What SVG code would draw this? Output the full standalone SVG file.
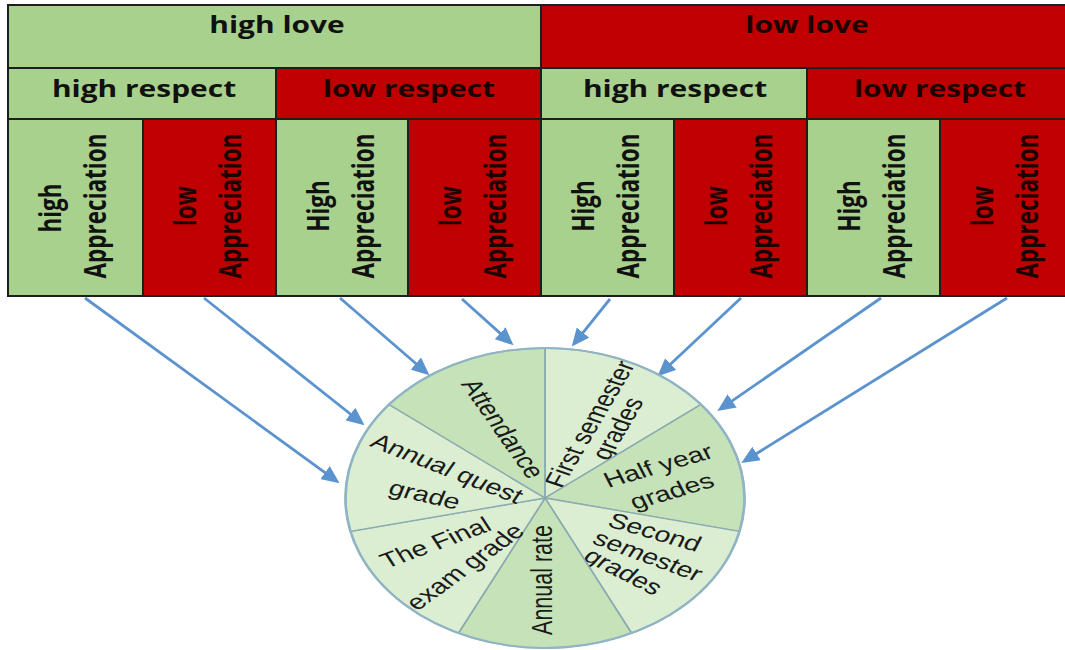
<svg xmlns="http://www.w3.org/2000/svg" width="1065" height="650" viewBox="0 0 1065 650">
<style>
.g{fill:#a9d18e;stroke:#1e1e1e;stroke-width:2}
.r{fill:#c00000;stroke:#1e1e1e;stroke-width:2}
.hd{font-family:"Open Sans","Liberation Sans",sans-serif;font-weight:700;font-size:22.5px;text-anchor:middle}
.dk{fill:#111111}
.rk{fill:#1f0000}
.lt{fill:#dbeed2;stroke:#8aaab0;stroke-width:1.3}
.dr{fill:#c6e2b8;stroke:#8aaab0;stroke-width:1.3}
.pt{font-family:"Liberation Sans",Arial,sans-serif;font-size:21.5px;fill:#1a1a1a;text-anchor:middle}
.ar{fill:none;stroke:#5b93cf;stroke-width:2.8;marker-end:url(#ah)}
</style>
<defs>
<marker id="ah" markerUnits="userSpaceOnUse" markerWidth="18" markerHeight="16" refX="8" refY="8" orient="auto">
<path d="M0,0 L18,8 L0,16 Z" fill="#5b93cf"/>
</marker>
</defs>
<rect width="1065" height="650" fill="#ffffff"/>

<g id="high-love"><rect class="g" x="8" y="5" width="533" height="63"/><text class="hd dk" transform="translate(277,33) scale(1.33,1)">high love</text></g>
<g id="low-love"><rect class="r" x="541" y="5" width="531" height="63"/><text class="hd rk" transform="translate(807,33) scale(1.33,1)">low love</text></g>

<g id="hl-high-respect"><rect class="g" x="8" y="68" width="268" height="51"/><text class="hd dk" transform="translate(144,97) scale(1.33,1)">high respect</text></g>
<g id="hl-low-respect"><rect class="r" x="276" y="68" width="265" height="51"/><text class="hd rk" transform="translate(409,97) scale(1.33,1)">low respect</text></g>
<g id="ll-high-respect"><rect class="g" x="541" y="68" width="266" height="51"/><text class="hd dk" transform="translate(675,97) scale(1.33,1)">high respect</text></g>
<g id="ll-low-respect"><rect class="r" x="807" y="68" width="265" height="51"/><text class="hd rk" transform="translate(940,97) scale(1.33,1)">low respect</text></g>

<g id="col1"><rect class="g" x="8" y="119" width="135" height="177"/><text class="hd dk" transform="translate(61,208) scale(1.33,1) rotate(-90)">high</text><text class="hd dk" transform="translate(106,206) scale(1.33,1) rotate(-90)">Appreciation</text></g>
<g id="col2"><rect class="r" x="143" y="119" width="133" height="177"/><text class="hd rk" transform="translate(196,206) scale(1.33,1) rotate(-90)">low</text><text class="hd rk" transform="translate(241,206) scale(1.33,1) rotate(-90)">Appreciation</text></g>
<g id="col3"><rect class="g" x="276" y="119" width="132" height="177"/><text class="hd dk" transform="translate(329,206) scale(1.33,1) rotate(-90)">High</text><text class="hd dk" transform="translate(374,206) scale(1.33,1) rotate(-90)">Appreciation</text></g>
<g id="col4"><rect class="r" x="408" y="119" width="133" height="177"/><text class="hd rk" transform="translate(461,206) scale(1.33,1) rotate(-90)">low</text><text class="hd rk" transform="translate(506,206) scale(1.33,1) rotate(-90)">Appreciation</text></g>
<g id="col5"><rect class="g" x="541" y="119" width="133" height="177"/><text class="hd dk" transform="translate(594,206) scale(1.33,1) rotate(-90)">High</text><text class="hd dk" transform="translate(639,206) scale(1.33,1) rotate(-90)">Appreciation</text></g>
<g id="col6"><rect class="r" x="674" y="119" width="133" height="177"/><text class="hd rk" transform="translate(727,206) scale(1.33,1) rotate(-90)">low</text><text class="hd rk" transform="translate(772,206) scale(1.33,1) rotate(-90)">Appreciation</text></g>
<g id="col7"><rect class="g" x="807" y="119" width="133" height="177"/><text class="hd dk" transform="translate(860,206) scale(1.33,1) rotate(-90)">High</text><text class="hd dk" transform="translate(905,206) scale(1.33,1) rotate(-90)">Appreciation</text></g>
<g id="col8"><rect class="r" x="940" y="119" width="132" height="177"/><text class="hd rk" transform="translate(993,206) scale(1.33,1) rotate(-90)">low</text><text class="hd rk" transform="translate(1038,206) scale(1.33,1) rotate(-90)">Appreciation</text></g>

<g id="connectors">
<line class="ar" x1="85" y1="298" x2="331.5" y2="477.3"/>
<line class="ar" x1="204" y1="298" x2="356.7" y2="419"/>
<line class="ar" x1="340" y1="298" x2="421.9" y2="368.8"/>
<line class="ar" x1="462" y1="299" x2="506.1" y2="338.6"/>
<line class="ar" x1="610" y1="299" x2="578" y2="338.8"/>
<line class="ar" x1="741" y1="298" x2="664.8" y2="369.5"/>
<line class="ar" x1="881" y1="298" x2="725.6" y2="405.4"/>
<line class="ar" x1="1007" y1="298" x2="749.8" y2="457.8"/>
</g>

<g id="pie" transform="translate(545,498) scale(1.33,1)">
<g id="slice-first-semester"><path class="lt" d="M0,0 L0,-150 A150,150 0 0,1 117.27,-93.52 Z"/><text class="pt" transform="translate(40.2,-71.1) rotate(-66)">First semester</text><text class="pt" transform="translate(61.2,-66.5) rotate(-66)">grades</text></g>
<g id="slice-half-year"><path class="dr" d="M0,0 L117.27,-93.52 A150,150 0 0,1 146.24,33.38 Z"/><text class="pt" transform="translate(87.7,-25.4) rotate(-21)">Half year</text><text class="pt" transform="translate(98,0) rotate(-21)">grades</text></g>
<g id="slice-second-semester"><path class="lt" d="M0,0 L146.24,33.38 A150,150 0 0,1 65.08,135.15 Z"/><text class="pt" transform="translate(80,41) rotate(21)">Second</text><text class="pt" transform="translate(74.3,64.4) rotate(26)">semester</text><text class="pt" transform="translate(54.8,79.6) rotate(34)">grades</text></g>
<g id="slice-annual-rate"><path class="dr" d="M0,0 L65.08,135.15 A150,150 0 0,1 -65.08,135.15 Z"/><text class="pt" transform="translate(5,82) rotate(-90)">Annual rate</text></g>
<g id="slice-final-exam"><path class="lt" d="M0,0 L-65.08,135.15 A150,150 0 0,1 -146.24,33.38 Z"/><text class="pt" transform="translate(-79.2,51.4) rotate(-26)">The Final</text><text class="pt" transform="translate(-55.2,74) rotate(-44)">exam grade</text></g>
<g id="slice-annual-quest"><path class="lt" d="M0,0 L-146.24,33.38 A150,150 0 0,1 -117.27,-93.52 Z"/><text class="pt" transform="translate(-77,-23.1) rotate(27.7)">Annual quest</text><text class="pt" transform="translate(-92.6,3.8) rotate(17)">grade</text></g>
<g id="slice-attendance"><path class="dr" d="M0,0 L-117.27,-93.52 A150,150 0 0,1 0,-150 Z"/><text class="pt" transform="translate(-38,-65.9) rotate(62)">Attendance</text></g>
<circle cx="0" cy="0" r="150" fill="none" stroke="#90b4c4" stroke-width="2"/>
</g>
</svg>
